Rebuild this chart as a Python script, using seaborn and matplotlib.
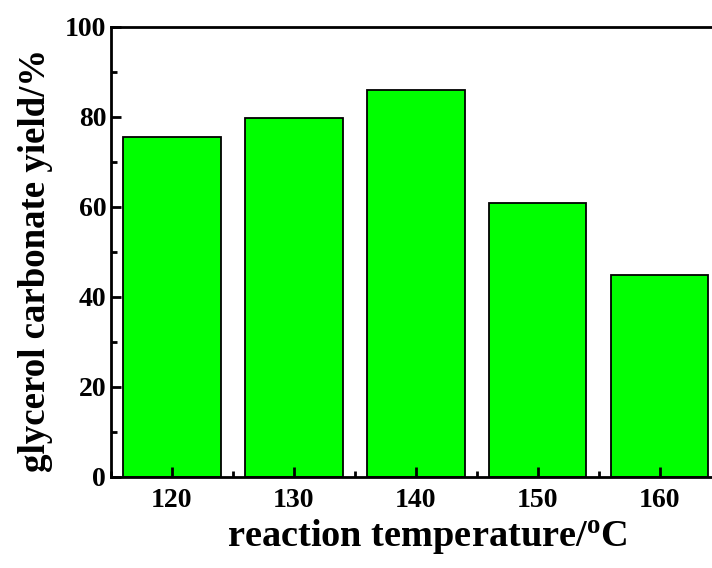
import matplotlib
matplotlib.use("Agg")
import matplotlib.pyplot as plt
import seaborn as sns
import pandas as pd
from matplotlib.ticker import MultipleLocator

temperatures = [120, 130, 140, 150, 160]
yields = [75.5, 79.8, 86.0, 60.8, 44.8]

sns.set_style("ticks")
plt.rcParams['font.family'] = ['Liberation Serif', 'DejaVu Serif']
plt.rcParams['font.weight'] = 'bold'
plt.rcParams['mathtext.fontset'] = 'custom'
plt.rcParams['mathtext.rm'] = 'Liberation Serif:bold'
plt.rcParams['mathtext.bf'] = 'Liberation Serif:bold'
plt.rcParams['mathtext.default'] = 'bf'
for key in ['text.color', 'axes.labelcolor', 'xtick.color', 'ytick.color', 'axes.edgecolor']:
    plt.rcParams[key] = 'black'

df = pd.DataFrame({"temp": temperatures, "yield": yields})

fig = plt.figure(figsize=(7.12, 5.68), dpi=100)
ax = fig.add_axes([111/712, 1 - 477/568, (712 - 111)/712, (477 - 27)/568])

sns.barplot(data=df, x="temp", y="yield", native_scale=True, width=0.8,
            color="#00ff00", saturation=1, edgecolor="black", linewidth=1.3, ax=ax)

ax.set_axisbelow(False)
ax.set_xlim(115, 164.3)
ax.set_ylim(0, 100)
ax.xaxis.set_major_locator(MultipleLocator(10))
ax.xaxis.set_minor_locator(MultipleLocator(5))
ax.yaxis.set_major_locator(MultipleLocator(20))
ax.yaxis.set_minor_locator(MultipleLocator(10))
ax.tick_params(which='both', direction='in', width=2, labelsize=20, colors='black')
ax.tick_params(which='major', length=7)
ax.tick_params(which='minor', length=4)
ax.tick_params(axis='x', pad=8)
for lab in ax.get_xticklabels() + ax.get_yticklabels():
    lab.set_fontweight('bold')

for s in ['left', 'bottom', 'top']:
    ax.spines[s].set_linewidth(2)
    ax.spines[s].set_color('black')
ax.spines['right'].set_visible(False)

ax.set_xlabel(r'reaction temperature/$^{o}$C', fontsize=27.6, fontweight='bold', color='black')
ax.set_ylabel('glycerol carbonate yield/%', fontsize=26.6, fontweight='bold', color='black')
ax.xaxis.set_label_coords(0.527, -0.09)
ax.xaxis.label.set_va('top')
ax.yaxis.set_label_coords(-0.097, 0.482)

fig.savefig("out.png", dpi=100)
